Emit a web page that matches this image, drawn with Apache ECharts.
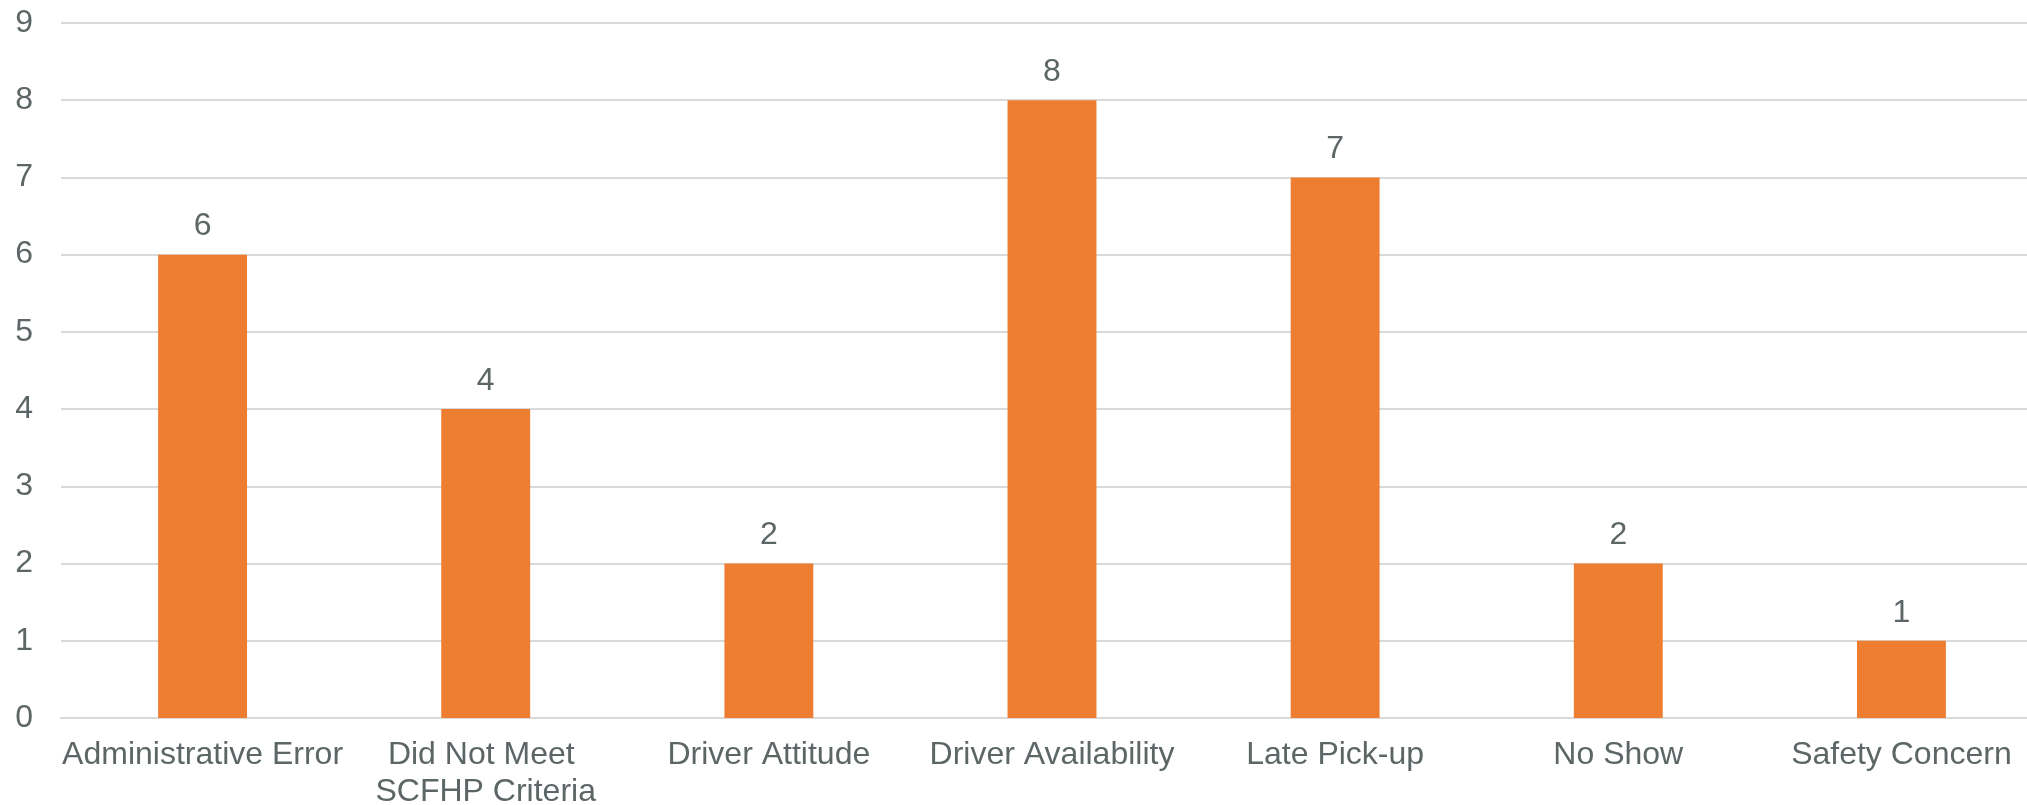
<!DOCTYPE html>
<html>
<head>
<meta charset="utf-8">
<style>
  html, body { margin: 0; padding: 0; background: #ffffff; }
  #chart { width: 2027px; height: 805px; }
</style>
<script src="https://cdn.jsdelivr.net/npm/echarts@6/dist/echarts.min.js"></script>
</head>
<body>
<div id="chart"></div>
<script>
// Complaint reasons and their counts
const categories = [
  'Administrative Error',
  'Did Not Meet SCFHP Criteria',
  'Driver Attitude',
  'Driver Availability',
  'Late Pick-up',
  'No Show',
  'Safety Concern'
];
const counts = [6, 4, 2, 8, 7, 2, 1];
const yTicks = [0, 1, 2, 3, 4, 5, 6, 7, 8, 9];

const textColor = '#5d6666';
const font = 'Liberation Sans, Arial, sans-serif';

const chart = echarts.init(document.getElementById('chart'), null, { renderer: 'canvas' });
chart.setOption({
  animation: false,
  backgroundColor: '#ffffff',
  grid: {
    left: 61, top: 23, right: -16, bottom: 87,
    containLabel: false,
    outerBoundsMode: 'none'
  },
  xAxis: {
    type: 'category',
    data: categories,
    axisLine: { show: true, lineStyle: { color: '#D9D9D9', width: 2 } },
    axisTick: { show: false },
    axisLabel: {
      color: textColor,
      fontFamily: font,
      fontSize: 32,
      lineHeight: 37,
      margin: 19,
      width: 283,
      overflow: 'break',
      interval: 0
    }
  },
  yAxis: {
    type: 'value',
    min: yTicks[0],
    max: yTicks[yTicks.length - 1],
    interval: 1,
    axisLine: { show: false },
    axisTick: { show: false },
    splitLine: { lineStyle: { color: '#D9D9D9', width: 2 } },
    axisLabel: {
      color: textColor,
      fontFamily: font,
      fontSize: 32,
      margin: 28
    }
  },
  series: [{
    type: 'bar',
    data: counts,
    barWidth: '31.4%',
    itemStyle: { color: '#ED7D31' },
    label: {
      show: true,
      position: 'top',
      distance: 12,
      color: textColor,
      fontFamily: font,
      fontSize: 32
    }
  }]
});
</script>
</body>
</html>
